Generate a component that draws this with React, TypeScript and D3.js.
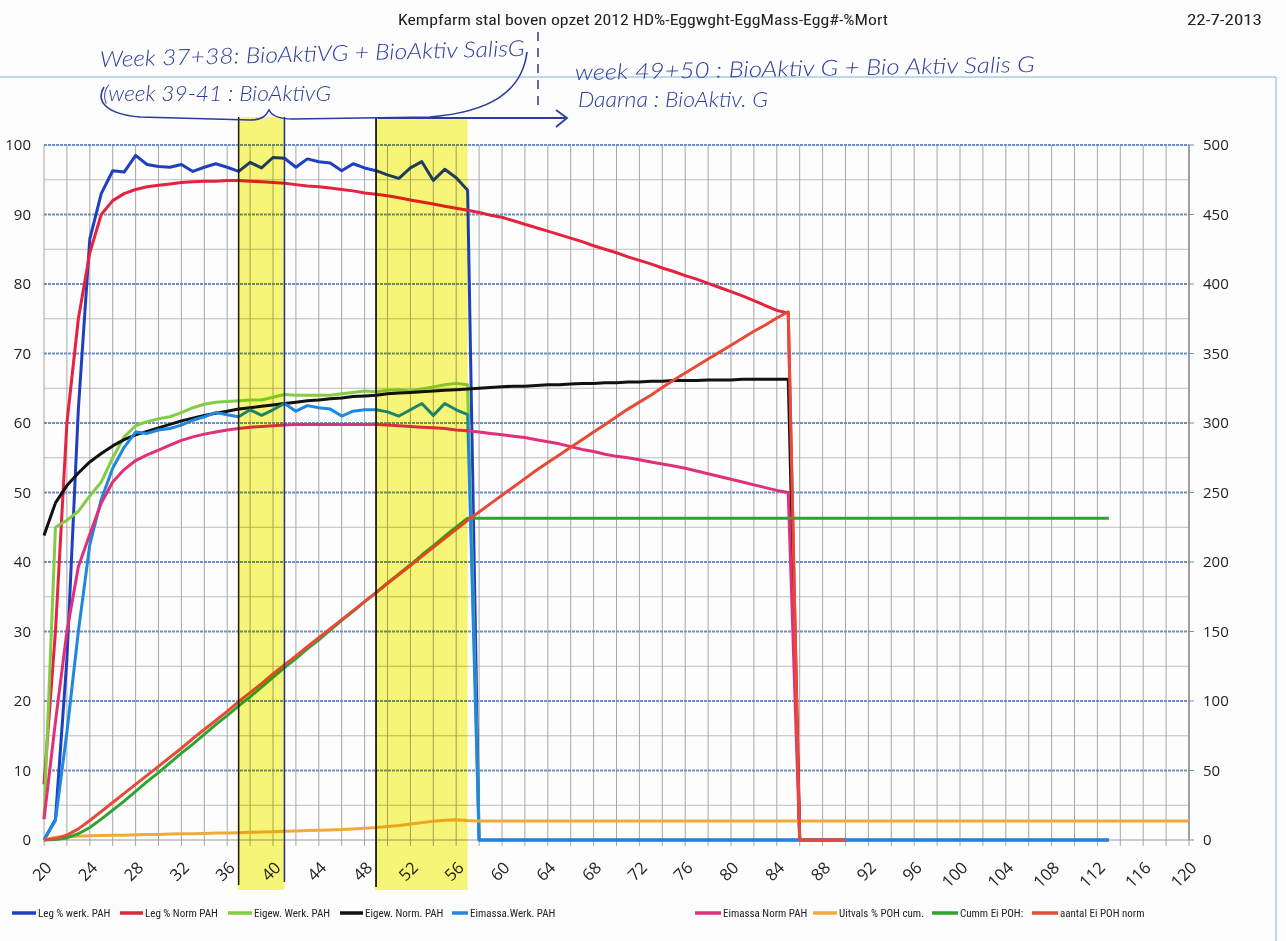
import React from 'react';
import * as d3 from 'd3';

// ---------- DATA (weekly values start at week 20) ----------
const START_WEEK = 20;

const legWerk = [0, 3, 26, 62, 86.5, 93, 96.3, 96.1, 98.5, 97.2, 96.9, 96.8, 97.2, 96.2, 96.8, 97.3, 96.8, 96.2, 97.5, 96.7,
  98.2, 98.1, 96.8, 98, 97.6, 97.4, 96.3, 97.3, 96.7, 96.3, 95.7, 95.2, 96.7, 97.6, 94.9, 96.5, 95.3, 93.5, 0];
const legWerkTail: [number, number][] = [[113, 0]];

const legNorm = [8, 30, 60, 75, 84.5, 90, 92, 93, 93.6, 94, 94.2, 94.4, 94.6, 94.7, 94.8, 94.8, 94.9, 94.9, 94.8, 94.7,
  94.6, 94.5, 94.3, 94.1, 94, 93.8, 93.6, 93.4, 93.1, 92.9, 92.7, 92.4, 92.1, 91.8, 91.5, 91.2, 90.9, 90.6, 90.3, 89.9,
  89.6, 89.1, 88.6, 88.1, 87.6, 87.1, 86.6, 86.1, 85.5, 85, 84.5, 83.9, 83.4, 82.9, 82.3, 81.8, 81.2, 80.7, 80.1, 79.5,
  78.9, 78.3, 77.6, 76.9, 76.2, 75.8, 0];
const legNormTail: [number, number][] = [[90, 0]];

const eigWerk = [3, 45, 46, 47.3, 49.5, 51.5, 55, 58, 59.6, 60.2, 60.6, 60.9, 61.5, 62.2, 62.7, 63, 63.1, 63.2, 63.3, 63.3,
  63.7, 64.1, 64, 64, 64, 64, 64.2, 64.4, 64.6, 64.5, 64.7, 64.8, 64.6, 64.9, 65.2, 65.5, 65.7, 65.5, 0];

const eigNorm = [43.8, 48.5, 51, 52.8, 54.4, 55.6, 56.7, 57.6, 58.3, 58.8, 59.3, 59.8, 60.3, 60.7, 61.1, 61.4, 61.7, 62, 62.2, 62.4,
  62.6, 62.8, 63, 63.2, 63.3, 63.5, 63.6, 63.8, 63.9, 64, 64.2, 64.3, 64.4, 64.5, 64.6, 64.7, 64.8, 64.9, 65, 65.1,
  65.2, 65.3, 65.3, 65.4, 65.5, 65.5, 65.6, 65.7, 65.7, 65.8, 65.8, 65.9, 65.9, 66, 66, 66.1, 66.1, 66.1, 66.2, 66.2,
  66.2, 66.3, 66.3, 66.3, 66.3, 66.3, 0];

const eiWerk = [0, 2.8, 15.5, 30, 42.5, 49, 53.5, 56.5, 58.7, 58.5, 59, 59.2, 59.7, 60.4, 60.9, 61.5, 61.2, 60.9, 61.9, 61.1,
  61.9, 62.8, 61.7, 62.5, 62.2, 62, 61, 61.7, 61.9, 61.9, 61.6, 61, 61.9, 62.8, 61.1, 62.8, 61.9, 61.2, 0];
const eiWerkTail: [number, number][] = [[113, 0]];

const eiNorm = [3, 17, 30, 39.3, 44, 48.5, 51.5, 53.3, 54.6, 55.4, 56.1, 56.8, 57.5, 58, 58.4, 58.7, 59, 59.2, 59.4, 59.5,
  59.6, 59.7, 59.8, 59.8, 59.8, 59.8, 59.8, 59.8, 59.8, 59.8, 59.7, 59.6, 59.5, 59.4, 59.3, 59.2, 59, 58.9, 58.7, 58.5,
  58.3, 58.1, 57.9, 57.6, 57.3, 57, 56.6, 56.2, 55.9, 55.5, 55.2, 55, 54.7, 54.4, 54.1, 53.8, 53.5, 53.1, 52.7, 52.3,
  51.9, 51.5, 51.1, 50.7, 50.3, 50, 0];

const uitvals = [0, 0.4, 0.5, 0.55, 0.6, 0.65, 0.7, 0.7, 0.75, 0.8, 0.8, 0.85, 0.9, 0.9, 0.95, 1, 1, 1.05, 1.1, 1.15,
  1.2, 1.25, 1.3, 1.35, 1.4, 1.45, 1.5, 1.6, 1.7, 1.8, 1.95, 2.1, 2.3, 2.5, 2.7, 2.85, 2.9, 2.8, 2.75];
const uitvalsTail: [number, number][] = [[120, 2.75]];

// right axis (0-500)
const cummEi = [0, 0.3, 1.5, 4.5, 9, 15, 21.5, 28, 35, 42, 48.5, 55.5, 62.5, 69, 76, 83, 89.5, 96.5, 103, 110,
  117, 124, 130.5, 137.5, 144, 151, 158, 164.5, 171.5, 178, 185, 191.5, 198, 205, 211.5, 218.5, 225, 231.5];
const cummEiTail: [number, number][] = [[113, 231.5]];

const aantalNorm = [0, 1, 3.5, 8, 14, 20.5, 27, 33.5, 40, 46.5, 53, 59.5, 66, 73, 79.5, 86, 92.5, 99.5, 106, 112.5,
  119.5, 126, 132.5, 139, 145.5, 152, 158.5, 165, 171.5, 178, 184.5, 191, 197.5, 204, 210.5, 217, 223.5, 230, 236, 242,
  248, 254, 260, 266, 271.5, 277, 282.5, 288, 293.5, 299, 304.5, 310, 315, 320, 325.5, 331, 336, 341, 346, 351,
  356, 361, 366, 370.5, 375.5, 380, 0];
const aantalTail: [number, number][] = [[90, 0]];

const xTicks = d3.range(20, 121, 4);
const leftTicks = d3.range(0, 101, 10);
const rightTicks = d3.range(0, 501, 50);

const legendLabels = ['Leg % werk. PAH', 'Leg % Norm PAH', 'Eigew. Werk. PAH', 'Eigew. Norm. PAH', 'Eimassa.Werk. PAH',
  'Eimassa Norm PAH', 'Uitvals % POH cum.', 'Cumm Ei POH:', 'aantal Ei POH norm'];

const title = 'Kempfarm stal boven opzet 2012 HD%-Eggwght-EggMass-Egg#-%Mort';
const dateText = '22-7-2013';

const note1 = 'Week 37+38: BioAktiVG + BioAktiv SalisG';
const note2 = '(week 39-41 : BioAktivG';
const note3 = 'week 49+50 : BioAktiv G + Bio Aktiv Salis G';
const note4 = 'Daarna : BioAktiv. G';

const band1 = [37, 41];
const band2 = [49, 57];

// ---------- STYLE ----------
const colors = ['#1f3fbf', '#e5223f', '#84cc45', '#111111', '#1e88e0', '#e0307a', '#f0aa3a', '#2ea32e', '#e84a3a'];
const legendX = [[12, 38], [120, 145], [228, 254], [340, 365], [452, 470], [695, 723], [813, 839], [932, 960], [1032, 1060]];

const toPts = (vals: number[], tail: [number, number][] = []): [number, number][] =>
  vals.map((v, i) => [START_WEEK + i, v] as [number, number]).concat(tail);

export default function App() {
  const x = d3.scaleLinear().domain([20, 120]).range([44, 1189]);
  const yL = d3.scaleLinear().domain([0, 100]).range([840, 145]);
  const yR = d3.scaleLinear().domain([0, 500]).range([840, 145]);

  const series = [
    { pts: toPts(legWerk, legWerkTail), y: yL },
    { pts: toPts(legNorm, legNormTail), y: yL },
    { pts: toPts(eigWerk), y: yL },
    { pts: toPts(eigNorm), y: yL },
    { pts: toPts(eiWerk, eiWerkTail), y: yL },
    { pts: toPts(eiNorm), y: yL },
    { pts: toPts(uitvals, uitvalsTail), y: yL },
    { pts: toPts(cummEi, cummEiTail), y: yR },
    { pts: toPts(aantalNorm, aantalTail), y: yR },
  ];

  const vGrid = d3.range(20, 121, 2);
  const hMinor = d3.range(5, 100, 10);
  const ink = '#2b3c9e';
  const hand = { fontFamily: 'Lato, "Open Sans", sans-serif', fontStyle: 'italic' as const, fontWeight: 300, fill: ink };

  return (
    <svg width={1286} height={941} style={{ position: 'absolute', left: 0, top: 0, background: '#fff' }}
      fontFamily='"Liberation Sans Narrow", "Roboto Condensed", Roboto, sans-serif'>
      <rect width={1286} height={941} fill="#fdfdfd" />
      {/* scanned frame */}
      <line x1={0} x2={1276} y1={77} y2={77} stroke="#a9cbe2" strokeWidth={1.5} />
      <line x1={1276} x2={1276} y1={77} y2={941} stroke="#a9cbe2" strokeWidth={1.5} />

      <text x={643} y={25} textAnchor="middle" fontSize={15} fill="#222" textLength={490} lengthAdjust="spacingAndGlyphs">{title}</text>
      <text x={1262} y={25} textAnchor="end" fontSize={15} fill="#222" textLength={75} lengthAdjust="spacingAndGlyphs">{dateText}</text>

      {/* grid */}
      {hMinor.map(v => <line key={'hm' + v} x1={x(20)} x2={x(120)} y1={yL(v)} y2={yL(v)} stroke="#bdbdbd" strokeWidth={1} />)}
      {vGrid.map(w => <line key={'vg' + w} x1={x(w)} x2={x(w)} y1={yL(100)} y2={yL(0) + 6} stroke="#a6a6a6" strokeWidth={1} />)}
      {leftTicks.filter(v => v > 0).map(v => (
        <line key={'hM' + v} x1={x(20)} x2={x(120)} y1={yL(v)} y2={yL(v)} stroke="#6f8fc2" strokeWidth={2.2} strokeDasharray="3 1" />
      ))}
      <line x1={x(20)} x2={x(120)} y1={yL(0)} y2={yL(0)} stroke="#9a9a9a" strokeWidth={1.2} />
      <line x1={x(120)} x2={x(120)} y1={yL(100)} y2={yL(0)} stroke="#8a8a8a" strokeWidth={1.4} />
      {rightTicks.map(v => <line key={'rt' + v} x1={x(120)} x2={x(120) + 5} y1={yR(v)} y2={yR(v)} stroke="#8a8a8a" />)}

      {/* axis labels */}
      {leftTicks.map(v => (
        <text key={'lt' + v} x={31} y={yL(v)} dy="0.35em" textAnchor="end" fontSize={15} fill="#222"
          fontFamily='"Open Sans", sans-serif'>{v}</text>
      ))}
      {rightTicks.map(v => (
        <text key={'rl' + v} x={1203} y={yR(v)} dy="0.35em" textAnchor="start" fontSize={15} fill="#222"
          fontFamily='"Open Sans", sans-serif'>{v}</text>
      ))}
      {xTicks.map(w => (
        <text key={'xt' + w} transform={`translate(${x(w)},${860}) rotate(-45)`} textAnchor="end" dy="0.75em"
          fontSize={16.5} fill="#222" fontFamily='"Open Sans", sans-serif'>{w}</text>
      ))}

      {/* series */}
      {series.map((s, i) => (
        <path key={'s' + i} d={d3.line<[number, number]>().x(d => x(d[0])).y(d => s.y(d[1]))(s.pts) || ''}
          fill="none" stroke={colors[i]} strokeWidth={3} strokeLinejoin="round" />
      ))}

      {/* highlighter bands */}
      {[band1, band2].map((b, i) => (
        <rect key={'b' + i} x={x(b[0]) - 1} width={x(b[1]) - x(b[0]) + 1} y={117} height={773}
          fill="#f9f778" style={{ mixBlendMode: 'multiply' }} />
      ))}
      <line x1={x(band1[0])} x2={x(band1[0])} y1={117} y2={885} stroke="#1a1a1a" strokeWidth={1.5} />
      <line x1={x(band1[1])} x2={x(band1[1])} y1={117} y2={882} stroke="#22347a" strokeWidth={1.5} />
      <line x1={x(band2[0])} x2={x(band2[0])} y1={117} y2={887} stroke="#1a1a1a" strokeWidth={1.8} />

      {/* handwritten notes */}
      <text x={100} y={67} fontSize={22} {...hand} textLength={425} lengthAdjust="spacingAndGlyphs" transform="rotate(-1.5 100 67)">{note1}</text>
      <text x={103} y={101} fontSize={21} {...hand} textLength={228} lengthAdjust="spacingAndGlyphs">{note2}</text>
      <text x={575} y={80} fontSize={22} {...hand} textLength={460} lengthAdjust="spacingAndGlyphs" transform="rotate(-1 575 80)">{note3}</text>
      <text x={578} y={107} fontSize={21} {...hand} textLength={190} lengthAdjust="spacingAndGlyphs">{note4}</text>
      <path d="M 104 87 C 96 100, 104 114, 140 117 L 250 120 C 262 120, 266 116, 269 110 C 272 116, 278 119, 292 119 L 430 117 C 490 112, 522 92, 527 52"
        fill="none" stroke={ink} strokeWidth={1.6} />
      <line x1={538} x2={538} y1={32} y2={108} stroke={ink} strokeWidth={1.5} strokeDasharray="9 7" />
      <line x1={378} x2={565} y1={118} y2={118} stroke={ink} strokeWidth={1.8} />
      <path d="M 556 110 L 567 118 L 556 127" fill="none" stroke={ink} strokeWidth={1.8} />

      {/* legend */}
      {legendLabels.map((lab, i) => (
        <g key={'lg' + i}>
          <line x1={legendX[i][0]} x2={legendX[i][1] - 2} y1={913} y2={913} stroke={colors[i]} strokeWidth={3.5} />
          <text x={legendX[i][1]} y={913} dy="0.35em" fontSize={11} fill="#222">{lab}</text>
        </g>
      ))}
    </svg>
  );
}
